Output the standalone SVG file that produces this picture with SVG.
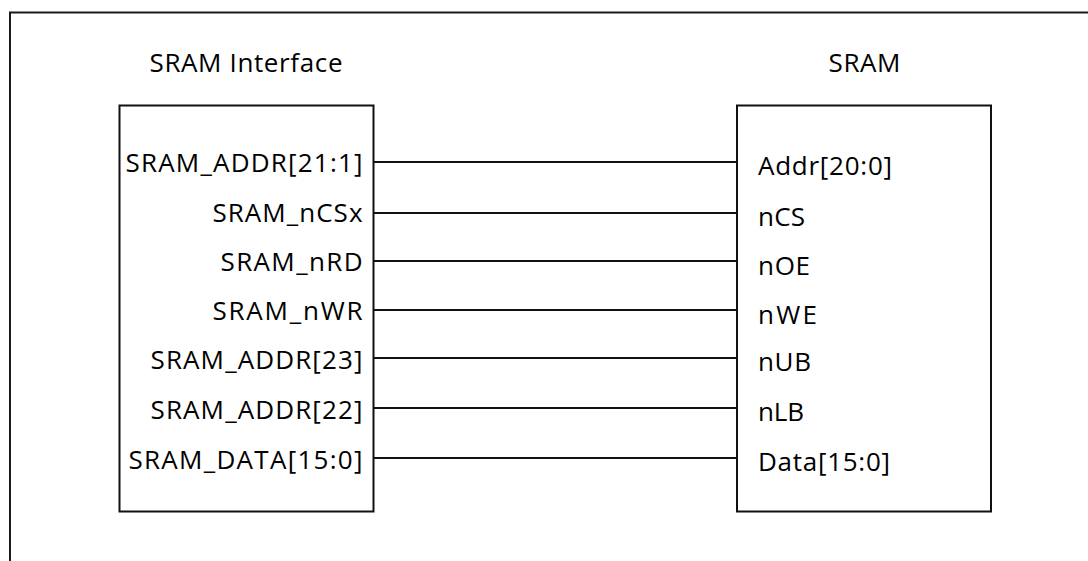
<svg xmlns="http://www.w3.org/2000/svg" width="1088" height="561" viewBox="0 0 1088 561">
<style>
.frame{fill:none;stroke:#1a1a1a;stroke-width:2}
.box{fill:#fff;stroke:#111;stroke-width:2}
.wire{stroke:#111;stroke-width:1.8}
text{font-family:"Open Sans","Noto Sans",sans-serif;font-size:26px;fill:#000}
.l{text-anchor:end}
.t{text-anchor:middle}
</style>
<rect width="1088" height="561" fill="#fff"/>
<path class="frame" d="M10 561 V12.5 H1088"/>
<g id="sram-interface">
<rect class="box" x="119.5" y="105.5" width="254" height="406"/>
<text class="t" x="246" y="72" textLength="193" lengthAdjust="spacing">SRAM Interface</text>
<text class="l" x="362.5" y="172" textLength="237" lengthAdjust="spacing">SRAM_ADDR[21:1]</text>
<text class="l" x="362.5" y="222" textLength="150" lengthAdjust="spacing">SRAM_nCSx</text>
<text class="l" x="362.5" y="271" textLength="142" lengthAdjust="spacing">SRAM_nRD</text>
<text class="l" x="362.5" y="320" textLength="150" lengthAdjust="spacing">SRAM_nWR</text>
<text class="l" x="362.5" y="369" textLength="212" lengthAdjust="spacing">SRAM_ADDR[23]</text>
<text class="l" x="362.5" y="419" textLength="212" lengthAdjust="spacing">SRAM_ADDR[22]</text>
<text class="l" x="362.5" y="469" textLength="234" lengthAdjust="spacing">SRAM_DATA[15:0]</text>
</g>
<g id="sram">
<rect class="box" x="737" y="105.5" width="254" height="406"/>
<text class="t" x="864.5" y="72" textLength="72" lengthAdjust="spacing">SRAM</text>
<text x="758" y="175" textLength="134" lengthAdjust="spacing">Addr[20:0]</text>
<text x="758" y="226" textLength="47" lengthAdjust="spacing">nCS</text>
<text x="758" y="275" textLength="52" lengthAdjust="spacing">nOE</text>
<text x="758" y="324" textLength="59" lengthAdjust="spacing">nWE</text>
<text x="758" y="371" textLength="53" lengthAdjust="spacing">nUB</text>
<text x="758" y="421" textLength="46" lengthAdjust="spacing">nLB</text>
<text x="758" y="471" textLength="132" lengthAdjust="spacing">Data[15:0]</text>
</g>
<g id="connectors">
<line class="wire" x1="373.5" y1="162" x2="737" y2="162"/>
<line class="wire" x1="373.5" y1="213" x2="737" y2="213"/>
<line class="wire" x1="373.5" y1="261" x2="737" y2="261"/>
<line class="wire" x1="373.5" y1="310" x2="737" y2="310"/>
<line class="wire" x1="373.5" y1="358" x2="737" y2="358"/>
<line class="wire" x1="373.5" y1="408" x2="737" y2="408"/>
<line class="wire" x1="373.5" y1="458" x2="737" y2="458"/>
</g>
</svg>
